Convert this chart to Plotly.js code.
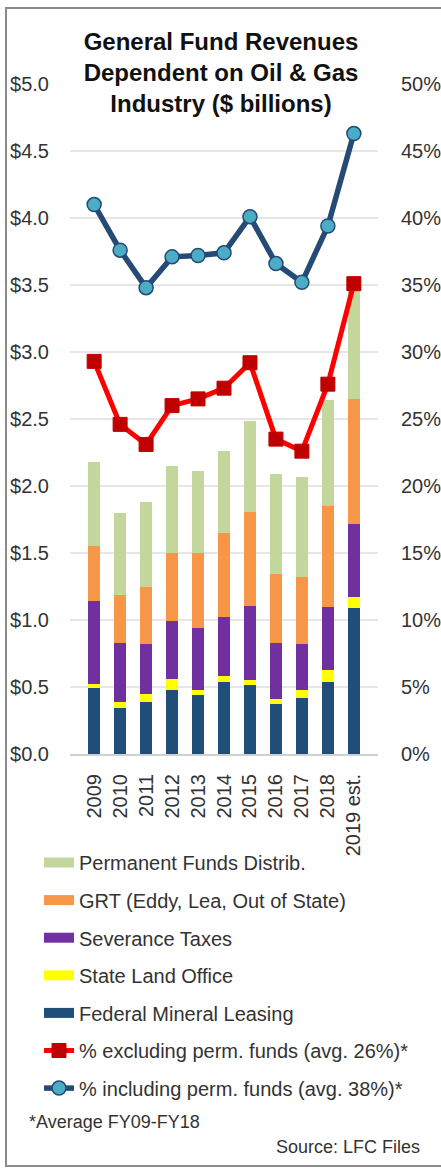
<!DOCTYPE html>
<html>
<head>
<meta charset="utf-8">
<script src="https://cdn.plot.ly/plotly-3.0.1.min.js"></script>
<style>
html,body{margin:0;padding:0;background:#fff;}
#chart{width:441px;height:1169px;}
</style>
</head>
<body>
<div id="chart"></div>
<script>
const years = ['2009','2010','2011','2012','2013','2014','2015','2016','2017','2018','2019 est.'];
const federal   = [0.49,0.345,0.39,0.48,0.44,0.54,0.515,0.37,0.42,0.535,1.09];
const stateLand = [0.03,0.045,0.06,0.08,0.04,0.04,0.04,0.04,0.06,0.095,0.08];
const severance = [0.62,0.44,0.37,0.43,0.46,0.44,0.55,0.42,0.34,0.47,0.55];
const grt       = [0.41,0.36,0.43,0.51,0.56,0.63,0.70,0.51,0.50,0.75,0.93];
const permFunds = [0.63,0.61,0.63,0.65,0.61,0.61,0.68,0.75,0.75,0.79,0.86];
const pctExcl   = [29.3,24.6,23.1,26.0,26.5,27.3,29.2,23.5,22.6,27.6,35.1];
const pctIncl   = [41.0,37.6,34.8,37.1,37.2,37.4,40.1,36.6,35.2,39.4,46.3];

const leftTicks = ['$0.0','$0.5','$1.0','$1.5','$2.0','$2.5','$3.0','$3.5','$4.0','$4.5','$5.0'];
const rightTicks = ['0%','5%','10%','15%','20%','25%','30%','35%','40%','45%','50%'];

const barSeries = [
  {name:'Federal Mineral Leasing', y:federal, color:'#1f4e79', rank:5},
  {name:'State Land Office', y:stateLand, color:'#ffff00', rank:4},
  {name:'Severance Taxes', y:severance, color:'#7030a0', rank:3},
  {name:'GRT (Eddy, Lea, Out of State)', y:grt, color:'#f79646', rank:2},
  {name:'Permanent Funds Distrib.', y:permFunds, color:'#c3d69b', rank:1}
];

const FONT = 'Liberation Sans, Arial, sans-serif';
const traces = [];
barSeries.forEach(s => {
  traces.push({type:'bar', x:years, y:s.y, name:s.name, marker:{color:s.color},
    showlegend:false, hoverinfo:'skip'});
});
barSeries.forEach(s => {
  traces.push({type:'scatter', mode:'lines', x:[null], y:[null], name:s.name,
    line:{color:s.color, width:10}, legendrank:s.rank, legendgroup:'g'+s.rank});
});
traces.push({type:'scatter', mode:'lines+markers', x:years, y:pctExcl, yaxis:'y2',
  name:'% excluding perm. funds (avg. 26%)*',
  line:{color:'#ff0000', width:5},
  marker:{symbol:'square', size:14, color:'#c00000', line:{color:'#c00000', width:1}},
  legendrank:6, legendgroup:'g6'});
traces.push({type:'scatter', mode:'lines+markers', x:years, y:pctIncl, yaxis:'y2',
  name:'% including perm. funds (avg. 38%)*',
  line:{color:'#254a75', width:5.5},
  marker:{symbol:'circle', size:14, color:'#4bacc6', line:{color:'#254a75', width:1.5}},
  legendrank:7, legendgroup:'g7'});

const W = 441, H = 1169, L = 70, R = 63, T = 84, B = 415;
const pw = W - L - R, ph = H - T - B;
const px = v => (v - L) / pw;
const py = v => (H - B - v) / ph;

const layout = {
  width:W, height:H,
  margin:{l:L, r:R, t:T, b:B, pad:0},
  paper_bgcolor:'#ffffff', plot_bgcolor:'#ffffff',
  barmode:'stack', bargap:0.56,
  font:{family:FONT, color:'#333333', size:20},
  title:{text:'General Fund Revenues<br>Dependent on Oil & Gas<br>Industry ($ billions)',
    font:{family:FONT, size:24, weight:'bold', color:'#111111'},
    x:221/W, xanchor:'center', xref:'container',
    y:1 - 50/H, yanchor:'top', yref:'container'},
  xaxis:{type:'category', tickangle:-90, ticks:'outside', ticklen:10, tickcolor:'rgba(0,0,0,0)',
    showline:true, linecolor:'#cfcfcf', linewidth:2, showgrid:false, zeroline:false,
    tickfont:{family:FONT, size:20, color:'#333333'}, fixedrange:true},
  yaxis:{range:[0,5], tickvals:[0,0.5,1,1.5,2,2.5,3,3.5,4,4.5,5], ticktext:leftTicks,
    ticks:'outside', ticklen:16, tickcolor:'rgba(0,0,0,0)',
    showgrid:true, gridcolor:'#e6e6e6', gridwidth:1.5, zeroline:false, showline:false,
    tickfont:{family:FONT, size:20, color:'#333333'}, fixedrange:true},
  yaxis2:{range:[0,50], overlaying:'y', side:'right', tickvals:[0,5,10,15,20,25,30,35,40,45,50],
    ticktext:rightTicks, ticks:'outside', ticklen:18, tickcolor:'rgba(0,0,0,0)',
    showgrid:false, zeroline:false, showline:false,
    tickfont:{family:FONT, size:20, color:'#333333'}, fixedrange:true},
  showlegend:true,
  legend:{x:px(39), y:py(843), xanchor:'left', yanchor:'top', xref:'paper', yref:'paper',
    traceorder:'grouped', tracegroupgap:8.6, bgcolor:'rgba(0,0,0,0)', borderwidth:0,
    font:{family:FONT, size:20, color:'#333333'}},
  annotations:[
    {text:'*Average FY09-FY18', xref:'paper', yref:'paper', x:px(27), y:py(1122),
     xanchor:'left', yanchor:'middle', showarrow:false, font:{family:FONT, size:18, color:'#333333'}},
    {text:'Source: LFC Files', xref:'paper', yref:'paper', x:px(422), y:py(1147),
     xanchor:'right', yanchor:'middle', showarrow:false, font:{family:FONT, size:18, color:'#333333'}}
  ],
  shapes:[
    {type:'rect', xref:'paper', yref:'paper', x0:px(6), x1:px(448), y0:py(1166), y1:py(8),
     line:{color:'#8a8a8a', width:2}, fillcolor:'rgba(0,0,0,0)', layer:'below'}
  ]
};

Plotly.newPlot('chart', traces, layout, {displayModeBar:false, staticPlot:true});
</script>
</body>
</html>
